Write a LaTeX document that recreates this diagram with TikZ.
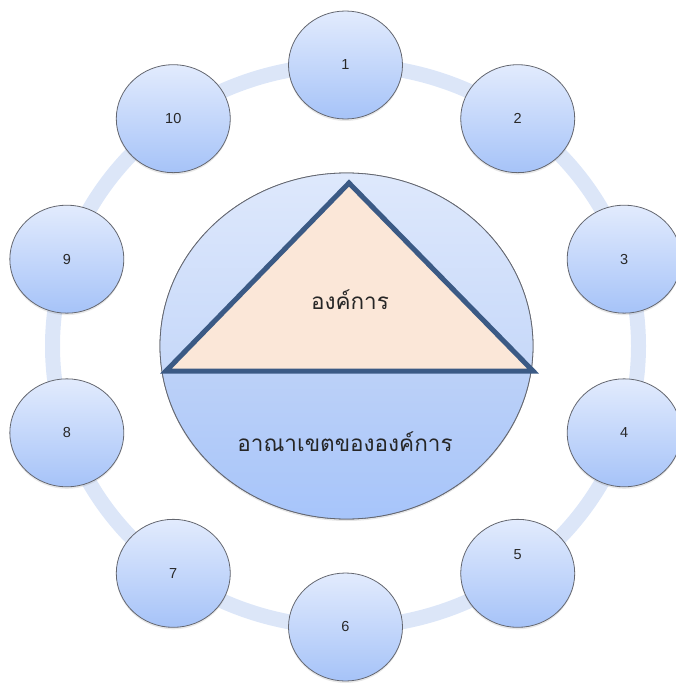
\documentclass[tikz,border=0pt]{standalone}
\usepackage{fontspec}
\setmainfont{Liberation Sans}
\newfontfamily\thaifont[Script=Thai]{Loma}
\usetikzlibrary{shapes.geometric,shadows}
\definecolor{ringc}{RGB}{220,230,248}
\definecolor{ctop}{RGB}{226,235,253}
\definecolor{cbot}{RGB}{166,195,248}
\definecolor{upTop}{RGB}{223,233,252}
\definecolor{upBot}{RGB}{198,216,249}
\definecolor{loTop}{RGB}{188,209,248}
\definecolor{loBot}{RGB}{166,196,250}
\definecolor{triline}{RGB}{59,90,133}
\definecolor{peach}{RGB}{251,231,216}
\definecolor{numc}{RGB}{40,40,40}
\definecolor{edgec}{RGB}{100,103,112}
\tikzset{
  ringband/.style={draw=ringc, line width=15pt},
  smallc/.style={ellipse, draw=edgec, line width=0.8pt, top color=ctop, bottom color=cbot,
    minimum width=114pt, minimum height=108pt, inner sep=0pt,
    font=\fontsize{14.5}{16}\selectfont, text=numc,
    drop shadow={opacity=0.18, shadow xshift=0pt, shadow yshift=-2pt}},
  corec/.style={ellipse, draw=edgec, line width=0.8pt, fill=upTop,
    minimum width=373pt, minimum height=346pt, inner sep=0pt,
    drop shadow={opacity=0.2, shadow xshift=0pt, shadow yshift=-2pt}},
  triangle/.style={draw=triline, line width=5pt, miter limit=10, line join=miter, fill=peach},
  thaitext/.style={font=\thaifont\fontsize{22.5}{25}\selectfont, text=black!85}
}
\begin{document}
\begin{tikzpicture}[x=1pt,y=-1pt]
\useasboundingbox (0,0) rectangle (675,685);
\coordinate (c) at (345.5,346);
\draw[ringband] (c) ellipse [x radius=293, y radius=281];
\foreach \k in {1,2,3,4,6,7,8,9,10}{
  \node[smallc] (n\k) at ({345.5+293*cos(90-36*(\k-1))},{346-281*sin(90-36*(\k-1))}) {\k};
}
\node[smallc] (n5) at ({345.5+293*cos(90-36*4)},{346-281*sin(90-36*4)}) {};
\node[font=\fontsize{14.5}{16}\selectfont, text=numc] (l5) at ([yshift=19pt]n5.center) {5};
% central ellipse
\node[corec] (core) at (346.5,346) {};
\begin{scope}
  \clip (core.center) ellipse [x radius=186.5, y radius=173];
  \shade[top color=upTop, bottom color=upBot] (150,165) rectangle (545,371);
  \shade[top color=loTop, bottom color=loBot] (150,371) rectangle (545,525);
\end{scope}
\draw[edgec, line width=0.8pt] (core.center) ellipse [x radius=186.5, y radius=173];
% triangle
\coordinate (apex) at (349,183);
\coordinate (bl) at (166,371);
\coordinate (br) at (533,371);
\draw[triangle] (apex) -- (br) -- (bl) -- cycle;
\node[thaitext] (org) at (350,300) {องค์การ};
\node[thaitext] (dom) at (345,442) {อาณาเขตขององค์การ};
\end{tikzpicture}
\end{document}
